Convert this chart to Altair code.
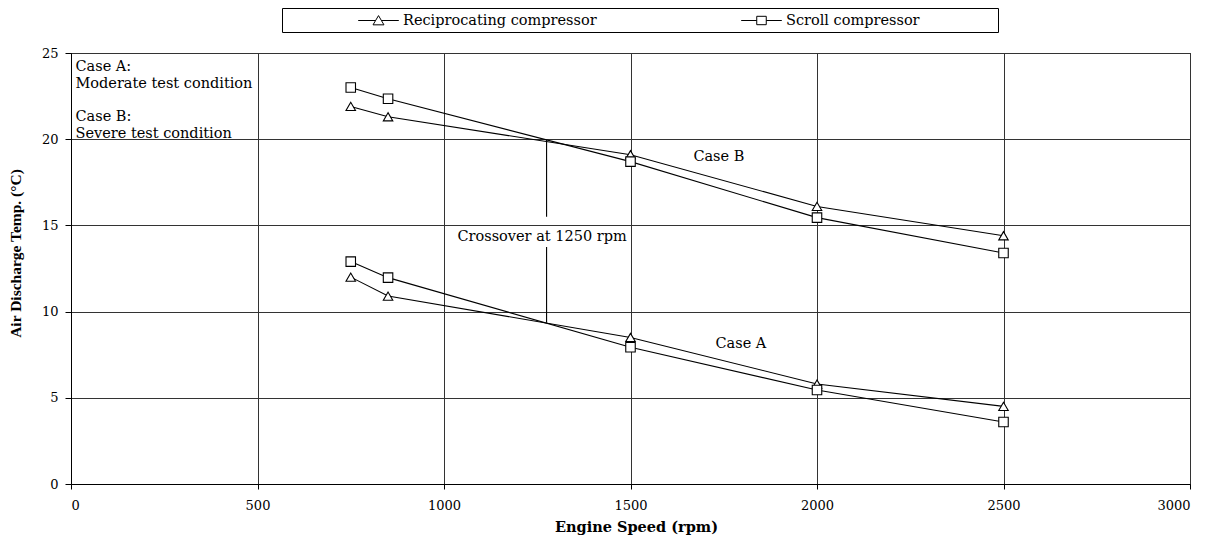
import altair as alt
import pandas as pd

# ---- data ----
rpm = [750, 850, 1500, 2000, 2500]
recip_A = [12.0, 10.9, 8.5, 5.8, 4.5]
scroll_A = [12.9, 11.97, 7.93, 5.45, 3.6]
recip_B = [21.9, 21.3, 19.1, 16.1, 14.4]
scroll_B = [23.0, 22.35, 18.7, 15.45, 13.4]
compressors = ["Reciprocating compressor", "Scroll compressor"]

crossover_rpm = [1275, 1275]
crossover_top = [19.95, 13.75]
crossover_bottom = [15.5, 9.35]

note_text = ["Case A:", "Moderate test condition", "Case B:", "Severe test condition",
             "Case B", "Case A", "Crossover at 1250 rpm"]
note_x = [12, 12, 12, 12, 1737, 1796, 1263]
note_y = [24.2, 23.2, 21.3, 20.3, 18.97, 8.12, 14.33]
note_align = ["left", "left", "left", "left", "center", "center", "center"]

x_ticks = [0, 500, 1000, 1500, 2000, 2500, 3000]
y_ticks = [0, 5, 10, 15, 20, 25]

FONT = "DejaVu Serif"

rows = []
for case, rec, scr in (("A", recip_A, scroll_A), ("B", recip_B, scroll_B)):
    for r, v in zip(rpm, rec):
        rows.append({"rpm": r, "temp": v, "compressor": compressors[0], "series": case + "R"})
    for r, v in zip(rpm, scr):
        rows.append({"rpm": r, "temp": v, "compressor": compressors[1], "series": case + "S"})
df = pd.DataFrame(rows)

notes = pd.DataFrame({"text": note_text, "x": note_x, "y": note_y, "align": note_align})
rules = pd.DataFrame({"x": crossover_rpm, "y": crossover_top, "y2": crossover_bottom})

xs = alt.Scale(domain=[0, 3000], nice=False, zero=False)
ys = alt.Scale(domain=[0, 25], nice=False, zero=True)

x_axis = alt.Axis(values=x_ticks, title="Engine Speed (rpm)", format="d",
                  grid=True, tickSize=5, labelPadding=10,
                  titleFont=FONT, titleFontWeight="bold", titleFontSize=14.5,
                  titleBaseline="middle", titleY=43, titleX=565)
y_axis = alt.Axis(values=y_ticks, title="Air Discharge Temp. (\u00b0C)",
                  grid=True, tickSize=6, labelPadding=7,
                  titleFont="Liberation Serif", titleFontWeight="bold", titleFontSize=15.5,
                  titleAngle=270, titleBaseline="middle", titleAlign="center",
                  titleX=-56, titleY=200)

base = alt.Chart(df)

lines = base.mark_line(color="black", strokeWidth=1.1).encode(
    x=alt.X("rpm:Q", scale=xs, axis=x_axis),
    y=alt.Y("temp:Q", scale=ys, axis=y_axis),
    detail="series:N",
    order="rpm:Q",
)

points = base.mark_point(filled=True, fill="white", stroke="black", strokeWidth=1.1,
                         size=90, opacity=1).encode(
    x=alt.X("rpm:Q", scale=xs),
    y=alt.Y("temp:Q", scale=ys),
    shape=alt.Shape("compressor:N",
                    scale=alt.Scale(domain=compressors, range=["triangle-up", "square"]),
                    legend=None),
)

tri_path = "M-2.9,0H-0.45M0.45,0H2.9M0,-0.7L0.78,0.62H-0.78Z"
sq_path = "M-2.9,0H-0.68M0.68,0H2.9M-0.68,-0.6H0.68V0.6H-0.68Z"

pad_right = "\u2003" * 5 + "\u200b"

legend_layer = base.transform_filter("false").mark_point(
    filled=False, color="black", strokeWidth=1, opacity=1).encode(
    x=alt.X("rpm:Q", scale=xs),
    y=alt.Y("temp:Q", scale=ys),
    shape=alt.Shape("compressor:N",
                    scale=alt.Scale(domain=compressors, range=[tri_path, sq_path]),
                    legend=alt.Legend(title="000000000000", titleOrient="left", titleFontSize=9.5,
                                      titleFont=FONT, titlePadding=4, titleOpacity=0,
                                      orient="none", legendX=211, legendY=-45,
                                      direction="horizontal", columns=2,
                                      symbolSize=196, labelOffset=17, columnPadding=142,
                                      padding=5, strokeColor="black", fillColor="white",
                                      labelFont=FONT, labelFontSize=14.5, labelColor="black",
                                      labelLimit=0, symbolOpacity=1,
                                      labelExpr="datum.label == 'Scroll compressor' ? datum.label + '" + pad_right + "' : datum.label",
                                      symbolFillColor="white", symbolStrokeColor="black",
                                      symbolStrokeWidth=1)),
)

crossover = alt.Chart(rules).mark_rule(color="black", strokeWidth=1.1).encode(
    x=alt.X("x:Q", scale=xs), y=alt.Y("y:Q", scale=ys), y2="y2:Q")

left_notes = alt.Chart(notes).transform_filter("datum.align == 'left'").mark_text(
    font=FONT, fontSize=14.5, align="left", baseline="middle", color="black").encode(
    x=alt.X("x:Q", scale=xs), y=alt.Y("y:Q", scale=ys), text="text:N")
center_notes = alt.Chart(notes).transform_filter("datum.align == 'center'").mark_text(
    font=FONT, fontSize=14.5, align="center", baseline="middle", color="black").encode(
    x=alt.X("x:Q", scale=xs), y=alt.Y("y:Q", scale=ys), text="text:N")

chart = alt.layer(lines, crossover, points, legend_layer, left_notes, center_notes).resolve_scale(
    shape="independent").resolve_legend(shape="independent").properties(
    width=1119, height=431,
    autosize=alt.AutoSizeParams(type="none"),
    padding={"left": 63, "top": 45, "right": 21, "bottom": 55},
    background="white",
).configure_view(stroke="black", strokeWidth=1).configure_axis(
    gridColor="#333333", gridWidth=1, gridOpacity=1,
    domainColor="black", tickColor="black", domainWidth=1,
    labelFont=FONT, labelFontSize=13, labelColor="black", titleColor="black",
)

chart.save("out.html", embed_options={"renderer": "svg", "actions": False})
